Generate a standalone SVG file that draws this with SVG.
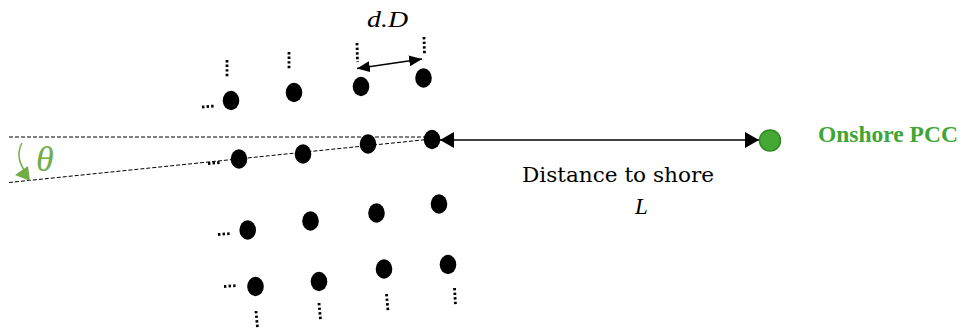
<svg xmlns="http://www.w3.org/2000/svg" width="966" height="331" viewBox="0 0 966 331">
<defs>
<marker id="ah" viewBox="0 0 14 16" refX="14" refY="8" markerWidth="14" markerHeight="16" markerUnits="userSpaceOnUse" orient="auto-start-reverse"><path d="M0,0 L14,8 L0,16 Z" fill="#000"/></marker>
<marker id="ahs" viewBox="0 0 14 12" refX="14" refY="6" markerWidth="13" markerHeight="11" markerUnits="userSpaceOnUse" orient="auto-start-reverse"><path d="M0,0 L14,6 L0,12 Z" fill="#000"/></marker>
</defs>
<style>
.t{fill:#000;stroke:none}
.dash{stroke:#000;stroke-width:1;stroke-dasharray:4 2;fill:none}
.dots{stroke:#000;stroke-width:2.8;stroke-dasharray:2.4 2.2;fill:none}
.serif{font-family:"DejaVu Serif","Liberation Serif",serif}
.math{font-family:"Liberation Serif","DejaVu Serif",serif;font-style:italic}
</style>
<rect width="966" height="331" fill="#fff"/>
<g id="connectors">
<line class="dash" x1="9" y1="137" x2="432" y2="137"/>
<line class="dash" x1="9" y1="182.5" x2="432" y2="139"/>
<line x1="440" y1="140" x2="759" y2="140" stroke="#000" stroke-width="1.3" marker-start="url(#ah)" marker-end="url(#ah)"/>
<line x1="357" y1="68.5" x2="422" y2="59" stroke="#000" stroke-width="1.3" marker-start="url(#ahs)" marker-end="url(#ahs)"/>
<path d="M22,143 Q14,158 27,174" fill="none" stroke="#70AD47" stroke-width="1.5"/>
<path d="M15,175 L28,166 L30,181 Z" fill="#70AD47"/>
</g>
<g id="ellipsis">
<line class="dots" x1="227" y1="60" x2="227" y2="78"/>
<line class="dots" x1="289" y1="52" x2="289" y2="70"/>
<line class="dots" x1="357" y1="43" x2="357.5" y2="62"/>
<line class="dots" x1="424" y1="37" x2="424.5" y2="55"/>
<line class="dots" x1="202" y1="107" x2="214" y2="106"/>
<line class="dots" x1="208" y1="163.5" x2="220" y2="162.5"/>
<line class="dots" x1="218" y1="234.5" x2="231" y2="233.5"/>
<line class="dots" x1="224" y1="286.5" x2="237" y2="285.5"/>
<line class="dots" x1="256" y1="311" x2="257.5" y2="328"/>
<line class="dots" x1="319" y1="303" x2="320.5" y2="320"/>
<line class="dots" x1="386.5" y1="294" x2="388" y2="311"/>
<line class="dots" x1="454.5" y1="288" x2="455.5" y2="305"/>
</g>
<g id="turbines">
<ellipse class="t" cx="231" cy="100.5" rx="8.3" ry="9.7"/>
<ellipse class="t" cx="294" cy="92.5" rx="8.3" ry="9.7"/>
<ellipse class="t" cx="361" cy="86.5" rx="8.3" ry="9.7"/>
<ellipse class="t" cx="423.5" cy="78" rx="8.3" ry="9.7"/>
<ellipse class="t" cx="239" cy="159" rx="8.3" ry="9.7"/>
<ellipse class="t" cx="303" cy="154" rx="8.3" ry="9.7"/>
<ellipse class="t" cx="368" cy="144" rx="8.3" ry="9.7"/>
<ellipse class="t" cx="432" cy="139.5" rx="8.3" ry="9.7"/>
<ellipse class="t" cx="247.7" cy="230" rx="8.3" ry="9.7"/>
<ellipse class="t" cx="310.5" cy="221" rx="8.3" ry="9.7"/>
<ellipse class="t" cx="376.5" cy="213" rx="8.3" ry="9.7"/>
<ellipse class="t" cx="439" cy="204" rx="8.3" ry="9.7"/>
<ellipse class="t" cx="255.5" cy="286.5" rx="8.3" ry="9.7"/>
<ellipse class="t" cx="319" cy="281.5" rx="8.3" ry="9.7"/>
<ellipse class="t" cx="384" cy="269" rx="8.3" ry="9.7"/>
<ellipse class="t" cx="448" cy="264.5" rx="8.3" ry="9.7"/>
</g>
<g id="pcc">
<circle cx="770" cy="140.5" r="10.5" fill="#44A832" stroke="#2F8A26" stroke-width="1.5"/>
<text x="818" y="142" font-family="'Liberation Serif','DejaVu Serif',serif" font-size="23.5" font-weight="bold" fill="#3FA535">Onshore PCC</text>
</g>
<g id="labels">
<text class="math" x="367" y="27" font-size="23" fill="#000" textLength="41" lengthAdjust="spacingAndGlyphs">d.D</text>
<text class="serif" x="522" y="182" font-size="20" fill="#000" textLength="192" lengthAdjust="spacingAndGlyphs">Distance to shore</text>
<text class="math" x="635" y="214" font-size="23" fill="#000">L</text>
<text class="math" x="36" y="171" font-size="36" fill="#70AD47">θ</text>
</g>
</svg>
